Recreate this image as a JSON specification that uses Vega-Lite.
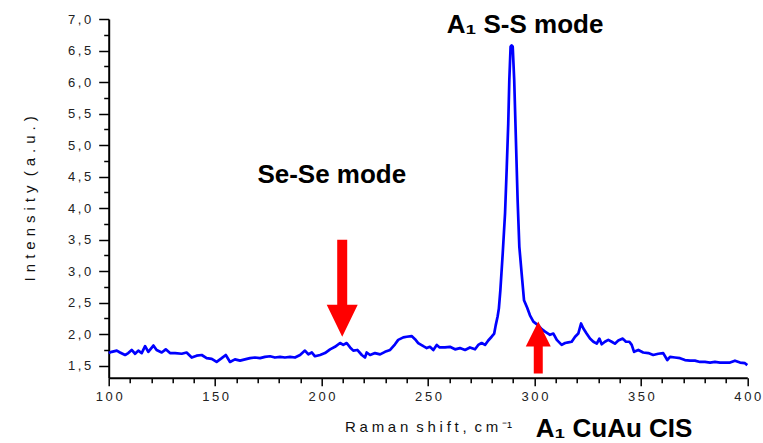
{
  "$schema": "https://vega.github.io/schema/vega-lite/v6.json",
  "width": 638.6,
  "height": 358.7,
  "autosize": {"type": "none"},
  "padding": {"left": 108.7, "top": 19, "right": 15.7, "bottom": 65.3},
  "background": "white",
  "config": {
    "view": {"stroke": null},
    "font": "Liberation Sans",
    "axis": {"grid": false, "labelFlush": false}
  },
  "datasets": {
    "spectrum": [
      {"shift": 100, "intensity": 1.70}, {"shift": 101.4, "intensity": 1.72}, {"shift": 103.8, "intensity": 1.74},
      {"shift": 105.3, "intensity": 1.71}, {"shift": 107.7, "intensity": 1.67}, {"shift": 109.2, "intensity": 1.70},
      {"shift": 110.8, "intensity": 1.75}, {"shift": 112.4, "intensity": 1.69}, {"shift": 113.9, "intensity": 1.74},
      {"shift": 115.5, "intensity": 1.70}, {"shift": 117.1, "intensity": 1.81}, {"shift": 118.6, "intensity": 1.72},
      {"shift": 121.0, "intensity": 1.82}, {"shift": 122.5, "intensity": 1.75}, {"shift": 124.9, "intensity": 1.71},
      {"shift": 126.8, "intensity": 1.76}, {"shift": 128.8, "intensity": 1.70}, {"shift": 131.2, "intensity": 1.70},
      {"shift": 134.3, "intensity": 1.69}, {"shift": 136.6, "intensity": 1.71}, {"shift": 139.0, "intensity": 1.63},
      {"shift": 141.3, "intensity": 1.66}, {"shift": 143.7, "intensity": 1.67}, {"shift": 146.0, "intensity": 1.62},
      {"shift": 148.4, "intensity": 1.61}, {"shift": 150.7, "intensity": 1.56}, {"shift": 153.1, "intensity": 1.62},
      {"shift": 155.0, "intensity": 1.67}, {"shift": 157.0, "intensity": 1.56}, {"shift": 159.3, "intensity": 1.60},
      {"shift": 161.7, "intensity": 1.58}, {"shift": 164.0, "intensity": 1.60}, {"shift": 166.4, "intensity": 1.62},
      {"shift": 168.7, "intensity": 1.63}, {"shift": 171.1, "intensity": 1.62}, {"shift": 173.4, "intensity": 1.64},
      {"shift": 175.8, "intensity": 1.65}, {"shift": 178.1, "intensity": 1.63}, {"shift": 180.5, "intensity": 1.64},
      {"shift": 182.8, "intensity": 1.63}, {"shift": 185.2, "intensity": 1.64}, {"shift": 187.5, "intensity": 1.63},
      {"shift": 189.9, "intensity": 1.67}, {"shift": 192.2, "intensity": 1.74}, {"shift": 193.8, "intensity": 1.68},
      {"shift": 195.4, "intensity": 1.71}, {"shift": 196.9, "intensity": 1.65}, {"shift": 199.3, "intensity": 1.67},
      {"shift": 201.6, "intensity": 1.70}, {"shift": 204.0, "intensity": 1.76}, {"shift": 206.3, "intensity": 1.80},
      {"shift": 208.7, "intensity": 1.86}, {"shift": 210.2, "intensity": 1.83}, {"shift": 211.8, "intensity": 1.86},
      {"shift": 213.4, "intensity": 1.79}, {"shift": 214.9, "intensity": 1.74}, {"shift": 216.8, "intensity": 1.75},
      {"shift": 218.9, "intensity": 1.67}, {"shift": 220.4, "intensity": 1.63}, {"shift": 221.2, "intensity": 1.71},
      {"shift": 222.8, "intensity": 1.67}, {"shift": 225.1, "intensity": 1.70}, {"shift": 227.5, "intensity": 1.68},
      {"shift": 229.8, "intensity": 1.72}, {"shift": 232.2, "intensity": 1.75}, {"shift": 234.5, "intensity": 1.84},
      {"shift": 236.0, "intensity": 1.91}, {"shift": 238.4, "intensity": 1.95}, {"shift": 240.0, "intensity": 1.96},
      {"shift": 242.3, "intensity": 1.97}, {"shift": 243.9, "intensity": 1.92}, {"shift": 245.4, "intensity": 1.86},
      {"shift": 247.8, "intensity": 1.81}, {"shift": 249.4, "intensity": 1.78}, {"shift": 250.9, "intensity": 1.80},
      {"shift": 252.5, "intensity": 1.75}, {"shift": 254.1, "intensity": 1.83}, {"shift": 255.5, "intensity": 1.79},
      {"shift": 258.0, "intensity": 1.79}, {"shift": 260.3, "intensity": 1.80}, {"shift": 262.7, "intensity": 1.76},
      {"shift": 265.0, "intensity": 1.78}, {"shift": 267.4, "intensity": 1.75}, {"shift": 269.7, "intensity": 1.79},
      {"shift": 272.1, "intensity": 1.76}, {"shift": 273.6, "intensity": 1.83}, {"shift": 275.2, "intensity": 1.86},
      {"shift": 276.8, "intensity": 1.83}, {"shift": 278.3, "intensity": 1.90}, {"shift": 279.9, "intensity": 1.96},
      {"shift": 281.1, "intensity": 2.01}, {"shift": 281.8, "intensity": 2.14}, {"shift": 282.7, "intensity": 2.28},
      {"shift": 283.3, "intensity": 2.41}, {"shift": 284.0, "intensity": 2.70}, {"shift": 285.1, "intensity": 3.28},
      {"shift": 286.2, "intensity": 3.92}, {"shift": 287.0, "intensity": 4.65}, {"shift": 287.7, "intensity": 5.34},
      {"shift": 288.2, "intensity": 6.03}, {"shift": 288.8, "intensity": 6.56}, {"shift": 289.3, "intensity": 6.58},
      {"shift": 289.8, "intensity": 6.56}, {"shift": 290.5, "intensity": 6.03}, {"shift": 291.3, "intensity": 5.08},
      {"shift": 292.1, "intensity": 4.13}, {"shift": 292.9, "intensity": 3.39}, {"shift": 294.0, "intensity": 2.96},
      {"shift": 295.1, "intensity": 2.54}, {"shift": 296.6, "intensity": 2.42}, {"shift": 297.9, "intensity": 2.30},
      {"shift": 299.5, "intensity": 2.20}, {"shift": 301.8, "intensity": 2.14}, {"shift": 303.4, "intensity": 2.08},
      {"shift": 305.0, "intensity": 2.04}, {"shift": 307.3, "intensity": 1.99}, {"shift": 308.9, "intensity": 2.01},
      {"shift": 310.5, "intensity": 1.91}, {"shift": 312.8, "intensity": 1.83}, {"shift": 314.4, "intensity": 1.86},
      {"shift": 315.9, "intensity": 1.87}, {"shift": 317.5, "intensity": 1.88}, {"shift": 319.1, "intensity": 1.96},
      {"shift": 320.6, "intensity": 2.01}, {"shift": 321.9, "intensity": 2.17}, {"shift": 323.0, "intensity": 2.09},
      {"shift": 324.5, "intensity": 2.01}, {"shift": 326.1, "intensity": 1.93}, {"shift": 327.7, "intensity": 1.88},
      {"shift": 329.3, "intensity": 1.85}, {"shift": 330.5, "intensity": 1.93}, {"shift": 331.6, "intensity": 1.84},
      {"shift": 333.1, "intensity": 1.88}, {"shift": 334.7, "intensity": 1.91}, {"shift": 336.3, "intensity": 1.88},
      {"shift": 337.8, "intensity": 1.85}, {"shift": 339.4, "intensity": 1.90}, {"shift": 341.5, "intensity": 1.93},
      {"shift": 343.0, "intensity": 1.88}, {"shift": 344.6, "intensity": 1.88}, {"shift": 345.7, "intensity": 1.83},
      {"shift": 346.8, "intensity": 1.72}, {"shift": 348.8, "intensity": 1.75}, {"shift": 351.1, "intensity": 1.71},
      {"shift": 353.5, "intensity": 1.70}, {"shift": 355.8, "intensity": 1.67}, {"shift": 358.2, "intensity": 1.69},
      {"shift": 360.5, "intensity": 1.70}, {"shift": 362.4, "intensity": 1.59}, {"shift": 363.7, "intensity": 1.64},
      {"shift": 366.0, "intensity": 1.63}, {"shift": 368.4, "intensity": 1.62}, {"shift": 370.7, "intensity": 1.59},
      {"shift": 373.1, "intensity": 1.58}, {"shift": 375.4, "intensity": 1.58}, {"shift": 377.8, "intensity": 1.56},
      {"shift": 380.1, "intensity": 1.56}, {"shift": 382.5, "intensity": 1.55}, {"shift": 384.8, "intensity": 1.56},
      {"shift": 387.2, "intensity": 1.55}, {"shift": 389.5, "intensity": 1.55}, {"shift": 391.9, "intensity": 1.55},
      {"shift": 394.2, "intensity": 1.58}, {"shift": 396.6, "intensity": 1.55}, {"shift": 398.9, "intensity": 1.54},
      {"shift": 400, "intensity": 1.51}
    ],
    "arrows": [
      {"shift": 209.7, "intensity": 1.96, "dir": "down"},
      {"shift": 301.8, "intensity": 2.20, "dir": "up"}
    ],
    "labels": [
      {"shift": 295.6, "intensity": 6.77, "label": "A₁ S-S mode"},
      {"shift": 204.8, "intensity": 4.40, "label": "Se-Se mode"},
      {"shift": 337.4, "intensity": 0.375, "label": "A₁ CuAu CIS"}
    ]
  },
  "layer": [
    {
      "data": {"name": "spectrum"},
      "mark": {"type": "line", "color": "#0000ff", "strokeWidth": 2.7, "strokeJoin": "round"},
      "encoding": {
        "x": {
          "field": "shift", "type": "quantitative",
          "scale": {"domain": [100, 400], "nice": false, "zero": false},
          "axis": {
            "orient": "bottom", "values": [100, 150, 200, 250, 300, 350, 400],
            "labelExpr": "join(split(format(datum.value, 'd'), ''), '\u2009')",
            "title": "R\u2005a\u2005m\u2005a\u2005n \u2005s\u2005h\u2005i\u2005f\u2005t\u2005, \u2005c\u2005m\u2005⁻¹",
            "tickSize": 8, "tickWidth": 1.5, "tickColor": "#000",
            "domainColor": "#000", "domainWidth": 2, "labelFontSize": 13, "labelColor": "#222",
            "labelPadding": 5, "titleFontSize": 15, "titleFontWeight": "normal", "titleColor": "#111",
            "titlePadding": 16
          }
        },
        "y": {
          "field": "intensity", "type": "quantitative",
          "scale": {"domain": [1.31, 7], "nice": false, "zero": false},
          "axis": {
            "orient": "left", "values": [1.5, 2, 2.5, 3, 3.5, 4, 4.5, 5, 5.5, 6, 6.5, 7],
            "labelExpr": "join(split(replace(format(datum.value, '.1f'), '.', ','), ''), '\u2009')",
            "title": "I\u2004n\u2004t\u2004e\u2004n\u2004s\u2004i\u2004t\u2004y \u2004(\u2004a\u2004.\u2004u\u2004.\u2004)",
            "tickSize": 10, "tickWidth": 1.5, "tickColor": "#000",
            "domainColor": "#000", "domainWidth": 2, "labelFontSize": 13, "labelColor": "#222",
            "labelPadding": 8, "titleFontSize": 15, "titleFontWeight": "normal", "titleColor": "#111",
            "titlePadding": 30
          }
        }
      }
    },
    {
      "data": {"name": "arrows"},
      "transform": [{"filter": "datum.dir === 'down'"}],
      "mark": {
        "type": "point", "shape": "M-5,-97L5,-97L5,-32L15.5,-32L0,0L-15.5,-32L-5,-32Z",
        "size": 4, "filled": true, "color": "#ff0000", "opacity": 1, "strokeWidth": 0
      },
      "encoding": {
        "x": {
          "field": "shift", "type": "quantitative",
          "scale": {"domain": [100, 400], "nice": false, "zero": false},
          "axis": {
            "orient": "bottom",
            "values": [110, 120, 130, 140, 160, 170, 180, 190, 210, 220, 230, 240, 260, 270, 280, 290, 310, 320, 330, 340, 360, 370, 380, 390],
            "labels": false, "domain": false, "title": null, "tickSize": 5, "tickWidth": 1.5, "tickColor": "#000"
          }
        },
        "y": {
          "field": "intensity", "type": "quantitative",
          "scale": {"domain": [1.31, 7], "nice": false, "zero": false},
          "axis": {
            "orient": "left",
            "values": [1.75, 2.25, 2.75, 3.25, 3.75, 4.25, 4.75, 5.25, 5.75, 6.25, 6.75],
            "labels": false, "domain": false, "title": null, "tickSize": 5, "tickWidth": 1.5, "tickColor": "#000"
          }
        }
      }
    },
    {
      "data": {"name": "arrows"},
      "transform": [{"filter": "datum.dir === 'up'"}],
      "mark": {
        "type": "point", "shape": "M0,0L12.5,25L4.5,25L4.5,52L-4.5,52L-4.5,25L-12.5,25Z",
        "size": 4, "filled": true, "color": "#ff0000", "opacity": 1, "strokeWidth": 0
      },
      "encoding": {
        "x": {"field": "shift", "type": "quantitative", "scale": {"domain": [100, 400], "nice": false, "zero": false}, "axis": null},
        "y": {"field": "intensity", "type": "quantitative", "scale": {"domain": [1.31, 7], "nice": false, "zero": false}, "axis": null}
      }
    },
    {
      "data": {"name": "labels"},
      "mark": {
        "type": "text", "font": "Liberation Sans", "fontWeight": "bold", "fontSize": 26,
        "align": "center", "baseline": "alphabetic", "color": "#000"
      },
      "encoding": {
        "x": {"field": "shift", "type": "quantitative", "scale": {"domain": [100, 400], "nice": false, "zero": false}, "axis": null},
        "y": {"field": "intensity", "type": "quantitative", "scale": {"domain": [1.31, 7], "nice": false, "zero": false}, "axis": null},
        "text": {"field": "label"}
      }
    }
  ],
  "resolve": {"axis": {"x": "independent", "y": "independent"}}
}
